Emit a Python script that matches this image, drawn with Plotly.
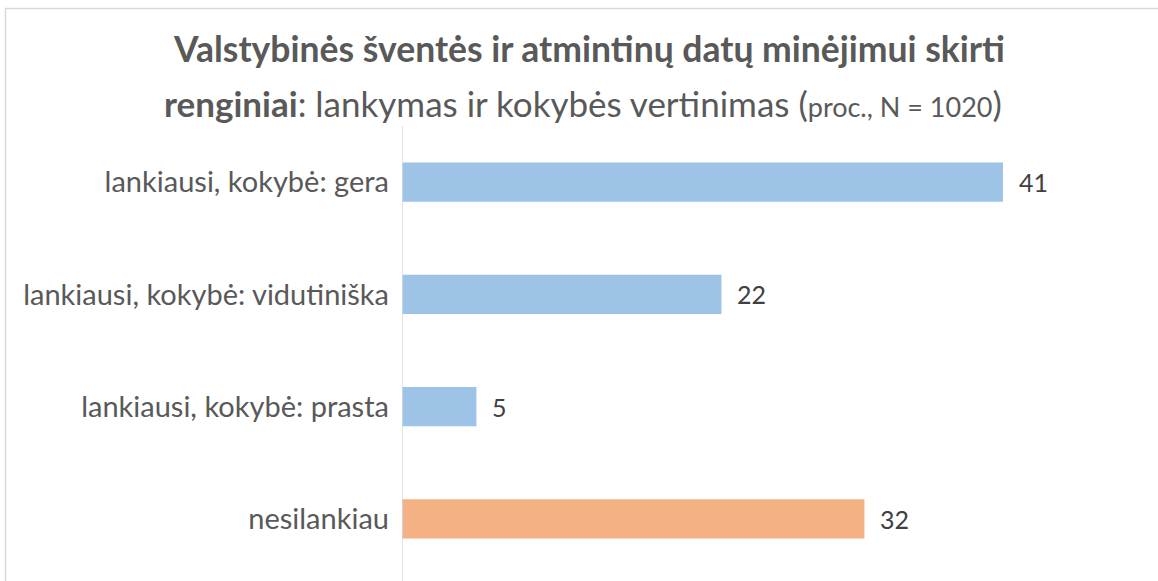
import plotly.graph_objects as go

categories = ["lankiausi, kokybė: gera", "lankiausi, kokybė: vidutiniška",
              "lankiausi, kokybė: prasta", "nesilankiau"]
values = [41.2, 21.9, 5.1, 31.7]
labels = ["41", "22", "5", "32"]
colors = ["#9DC3E6", "#9DC3E6", "#9DC3E6", "#F4B183"]

W, H = 1158, 581
L, R, T, B = 402, 58, 126, 6
pw, ph = W - L - R, H - T - B
scale = (1003 - 402) / 41.2
xmax = pw / scale

def px_x(px):
    return (px - L) / pw

def px_y(py):
    return (H - B - py) / ph

fig = go.Figure()
fig.add_trace(go.Bar(
    y=categories, x=values, orientation="h",
    marker=dict(color=colors, line=dict(width=0)),
    hoverinfo="skip",
))

for c, v, t in zip(categories, values, labels):
    fig.add_annotation(x=v, y=c, text=t, showarrow=False, xanchor="left",
                       xshift=14, font=dict(family="Lato", size=25, color="#404040"))

fig.add_annotation(xref="paper", yref="paper", x=px_x(589), y=px_y(49),
                   text="<b>Valstybinės šventės ir atmintinų datų minėjimui skirti</b>",
                   showarrow=False, xanchor="center", yanchor="middle",
                   font=dict(family="Lato", size=35.5, color="#595959"))
fig.add_annotation(xref="paper", yref="paper", x=px_x(583), y=px_y(103),
                   text="<b>renginiai</b>: lankymas ir kokybės vertinimas "
                        "(<span style='font-size:27px'>proc., N = 1020</span>)",
                   showarrow=False, xanchor="center", yanchor="middle",
                   font=dict(family="Lato", size=35, color="#595959"))

fig.add_shape(type="rect", xref="paper", yref="paper",
              x0=px_x(5.5), x1=px_x(1200), y0=px_y(8.5), y1=px_y(620),
              line=dict(color="#D9D9D9", width=1.5), fillcolor="rgba(0,0,0,0)", layer="below")
fig.add_shape(type="line", xref="x", yref="paper",
              x0=0, x1=0, y0=px_y(126), y1=px_y(590),
              line=dict(color="#D9D9D9", width=1.5), layer="above")

fig.update_layout(
    width=W, height=H,
    margin=dict(l=L, r=R, t=T, b=B, pad=0),
    paper_bgcolor="white", plot_bgcolor="white",
    bargap=0.65, showlegend=False,
    xaxis=dict(range=[0, xmax], visible=False, fixedrange=True),
    yaxis=dict(autorange="reversed", showline=False, fixedrange=True,
               ticks="", ticklabelstandoff=12, showgrid=False,
               tickfont=dict(family="Lato", size=29, color="#595959")),
)
fig.write_html("out.html", config={"displayModeBar": False},
               post_script="document.body.style.margin='0';")
